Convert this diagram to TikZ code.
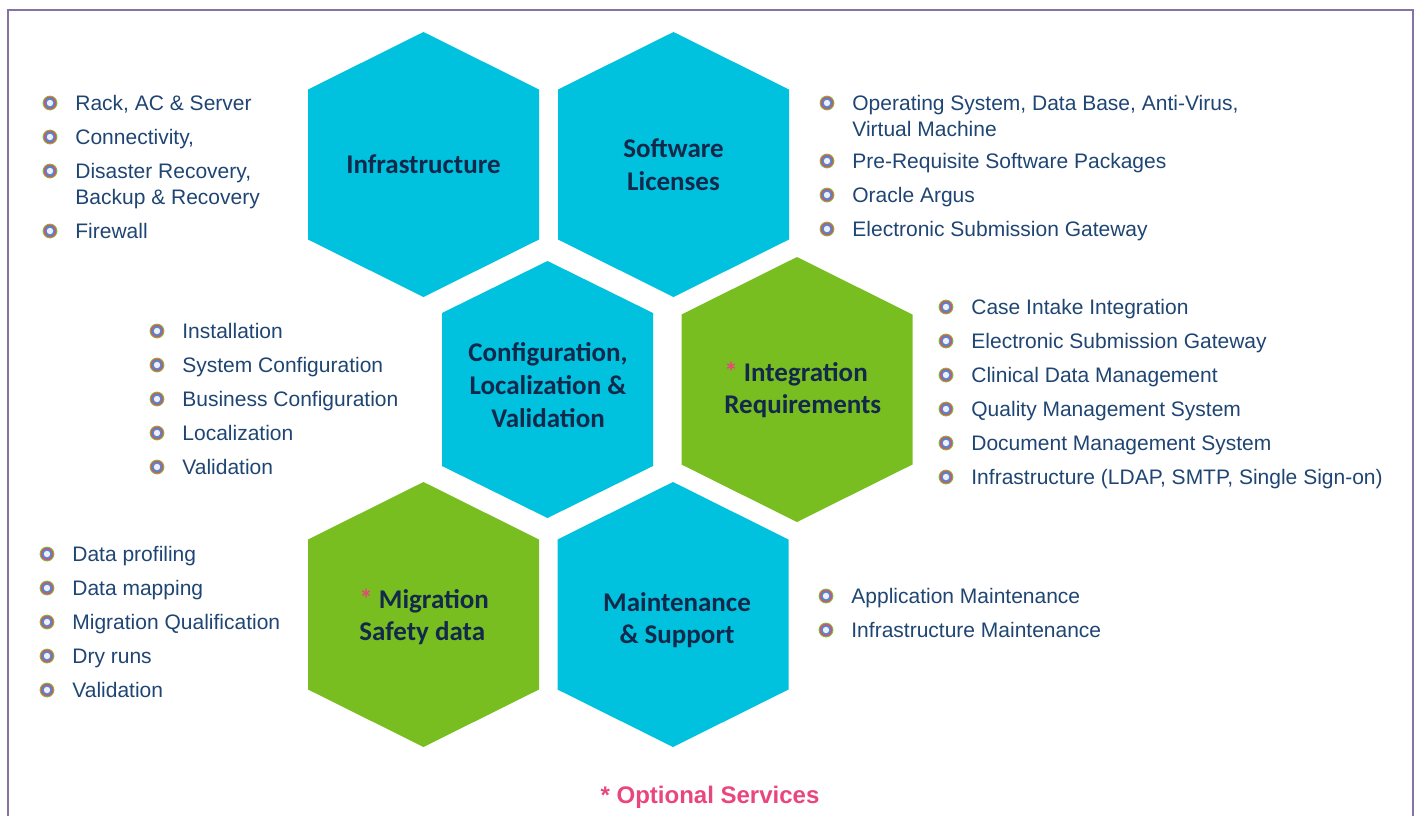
\documentclass[tikz,border=0pt]{standalone}
\usepackage{fontspec}
\setmainfont{Liberation Sans}
\newfontfamily\hexfont{Carlito}
\usepackage{tikz}
\usetikzlibrary{positioning}

\definecolor{hexblue}{HTML}{00C1DE}
\definecolor{hexgreen}{HTML}{78BE20}
\definecolor{labnavy}{HTML}{13294B}
\definecolor{txtblue}{HTML}{1F4573}
\definecolor{starpink}{HTML}{E9467C}
\definecolor{framecol}{HTML}{8573A3}
\definecolor{bulgreen}{HTML}{7DBF3A}
\definecolor{bulpink}{HTML}{D9506F}
\definecolor{bulblue}{HTML}{4F86CF}
\definecolor{bulcenter}{HTML}{EEF0F6}

\tikzset{
	bul/.style={circle,inner sep=0pt,minimum size=7.4pt,fill=bulgreen,
		path picture={
			\fill[bulpink] (path picture bounding box.center) circle (3.2pt);
			\fill[bulblue] (path picture bounding box.center) circle (2.6pt);
			\fill[bulcenter] (path picture bounding box.center) circle (1.6pt);}},
	btext/.style={anchor=base west,align=left,inner sep=0pt,text=txtblue,
		font=\fontsize{10.5}{13}\selectfont},
	hexlabel/.style={align=center,inner sep=0pt,text=labnavy,
		font=\hexfont\bfseries\fontsize{13.5}{16.3}\selectfont}
}

\begin{document}
\begin{tikzpicture}[x=0.5pt,y=-0.5pt]

	\useasboundingbox (0,0) rectangle (1420,816);

	% frame
	\draw[framecol,line width=1.4pt] (8,816) -- (8,10) -- (1413,10) -- (1413,816);

	% honeycomb
	\foreach \cx/\cy/\col in {423.5/164.5/hexblue,673.5/164.5/hexblue,797/389.5/hexgreen,423.5/614.5/hexgreen,673/614.5/hexblue}
		{
		\fill[\col] (\cx,\cy-132.5) -- ++(115.5,57.5) -- ++(0,150) -- ++(-115.5,57.5) -- ++(-115.5,-57.5) -- ++(0,-150) -- cycle;
		}
	\fill[hexblue] (547.5,261) -- ++(105.5,52) -- ++(0,153) -- ++(-105.5,52) -- ++(-105.5,-52) -- ++(0,-153) -- cycle;

	\node[hexlabel] (infra) at (423.5,164.5) {Infrastructure};
	\node[hexlabel] (soft) at (673.5,165) {Software\\Licenses};
	\node[hexlabel] (config) at (548,385) {Configuration,\\Localization \&\\Validation};
	\node[hexlabel,anchor=west,align=left] (integ) at (724,390) {{\color{starpink}*} Integration\\Requirements};
	\node[hexlabel,anchor=west,align=left] (migr) at (359,617) {{\color{starpink}*} Migration\\Safety data};
	\node[hexlabel] (maint) at (677,620) {Maintenance\\\& Support};

	% bullet lists (second field: extra drop of the last baseline)
	\foreach \y/\dy/\txt [count=\i] in {103/0/{Rack, AC \& Server},137/0/{Connectivity,},171/26/{Disaster Recovery,\\Backup \& Recovery},231/0/{Firewall}}
		{
		\node[bul] (infb\i) at (50,\y) {};
		\node[btext] (inft\i) at (75,\y+7.5+\dy) {\txt};
		}

	\foreach \y/\dy/\txt [count=\i] in {103/26/{Operating System, Data Base, Anti-Virus,\\Virtual Machine},161/0/{Pre-Requisite Software Packages},195/0/{Oracle Argus},229/0/{Electronic Submission Gateway}}
		{
		\node[bul] (softb\i) at (827,\y) {};
		\node[btext] (softt\i) at (852,\y+7.5+\dy) {\txt};
		}

	\foreach \y/\txt [count=\i] in {331/{Installation},365/{System Configuration},399/{Business Configuration},433/{Localization},467/{Validation}}
		{
		\node[bul] (confb\i) at (157,\y) {};
		\node[btext] (conft\i) at (182,\y+7.5) {\txt};
		}

	\foreach \y/\txt [count=\i] in {307/{Case Intake Integration},341/{Electronic Submission Gateway},375/{Clinical Data Management},409/{Quality Management System},443/{Document Management System},477/{Infrastructure (LDAP, SMTP, Single Sign-on)}}
		{
		\node[bul] (integb\i) at (946,\y) {};
		\node[btext] (integt\i) at (971,\y+7.5) {\txt};
		}

	\foreach \y/\txt [count=\i] in {554/{Data profiling},588/{Data mapping},622/{Migration Qualification},656/{Dry runs},690/{Validation}}
		{
		\node[bul] (migrb\i) at (47,\y) {};
		\node[btext] (migrt\i) at (72,\y+7.5) {\txt};
		}

	\foreach \y/\txt [count=\i] in {596/{Application Maintenance},630/{Infrastructure Maintenance}}
		{
		\node[bul] (maintb\i) at (826,\y) {};
		\node[btext] (maintt\i) at (851,\y+7.5) {\txt};
		}

	\node[text=starpink,font=\bfseries\fontsize{12}{14}\selectfont] (optional) at (710,797) {* Optional Services};

\end{tikzpicture}
\end{document}
